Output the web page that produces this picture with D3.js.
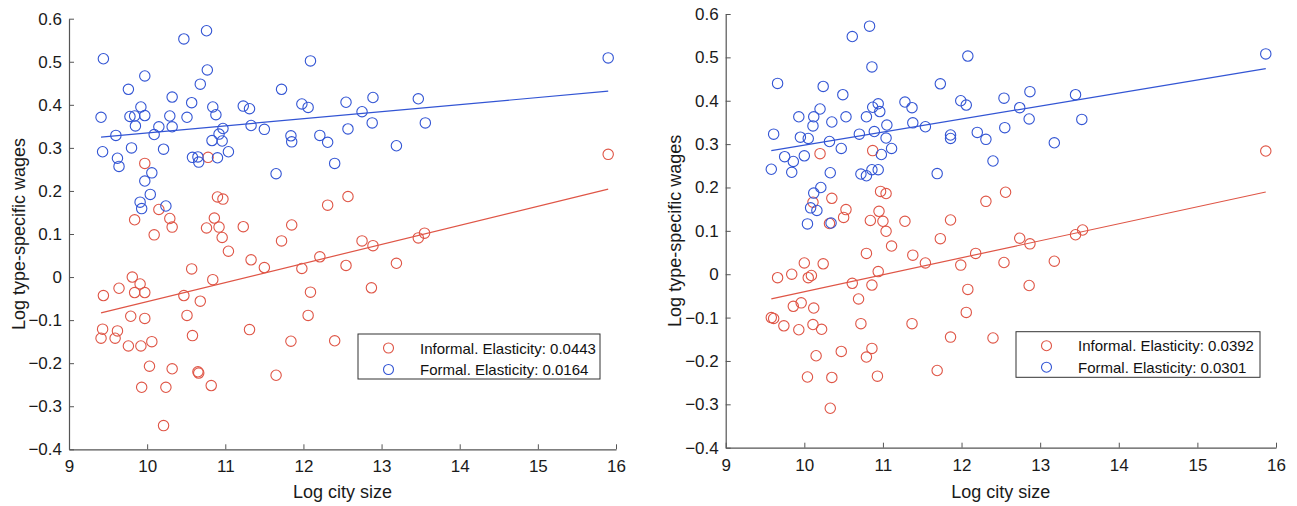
<!DOCTYPE html>
<html>
<head>
<meta charset="utf-8">
<script src="https://cdn.jsdelivr.net/npm/d3@7"></script>
<style>
    body { margin: 0; background: #fff; }
    svg { font-family: "Liberation Sans", Arial, Helvetica, sans-serif; }
    .axis path, .axis line { stroke: #555; }
    .axis text { fill: #1a1a1a; font-size: 17px; }
</style>
</head>
<body>
<div id="chart"></div>
<script>
//Datos: [log city size, log type-specific wage]
const xTicks = [9, 10, 11, 12, 13, 14, 15, 16];
const yTicks = [-0.4, -0.3, -0.2, -0.1, 0, 0.1, 0.2, 0.3, 0.4, 0.5, 0.6];

const leftInformal = [[9.97,0.264],[10.78,0.278],[9.84,0.133],[10.15,0.157],[10.09,0.098],[10.29,0.136],[10.32,0.116],[10.90,0.186],[10.97,0.181],[10.86,0.137],[10.76,0.114],[10.92,0.116],[10.96,0.092],[11.04,0.060],[11.23,0.117],[11.85,0.121],[11.72,0.084],[12.31,0.167],[12.21,0.047],[11.33,0.040],[11.50,0.022],[11.98,0.020],[10.57,0.019],[9.81,0.000],[9.91,-0.016],[9.84,-0.036],[9.97,-0.036],[9.64,-0.026],[9.44,-0.043],[10.47,-0.043],[10.84,-0.006],[10.68,-0.056],[12.09,-0.035],[12.06,-0.089],[9.79,-0.091],[9.97,-0.096],[10.51,-0.089],[9.43,-0.121],[9.62,-0.125],[9.41,-0.142],[9.59,-0.142],[9.76,-0.160],[9.92,-0.160],[10.06,-0.150],[10.58,-0.136],[11.31,-0.122],[11.84,-0.149],[12.40,-0.148],[10.03,-0.207],[10.32,-0.213],[10.65,-0.220],[10.66,-0.223],[11.65,-0.228],[9.93,-0.256],[10.24,-0.256],[10.82,-0.252],[10.21,-0.345],[15.90,0.285],[12.57,0.187],[12.75,0.084],[12.89,0.073],[13.47,0.091],[13.55,0.102],[12.545,0.027],[13.19,0.032],[12.87,-0.025]];

const leftFormal = [[9.44,0.507],[9.41,0.371],[9.43,0.291],[9.60,0.329],[9.62,0.276],[9.64,0.257],[9.76,0.436],[9.97,0.467],[9.80,0.300],[9.78,0.373],[9.84,0.374],[9.92,0.395],[9.85,0.351],[9.97,0.375],[10.09,0.331],[10.15,0.349],[10.21,0.297],[10.06,0.242],[9.97,0.223],[10.04,0.192],[9.91,0.174],[9.93,0.159],[10.24,0.165],[10.32,0.418],[10.29,0.374],[10.32,0.349],[10.47,0.553],[10.76,0.572],[10.77,0.481],[10.68,0.448],[10.57,0.405],[10.51,0.371],[10.84,0.395],[10.88,0.377],[10.97,0.345],[10.92,0.332],[10.83,0.317],[10.96,0.316],[11.04,0.291],[10.58,0.278],[10.65,0.279],[10.66,0.267],[10.90,0.277],[11.23,0.397],[11.31,0.391],[11.33,0.352],[11.50,0.343],[11.65,0.240],[11.72,0.436],[11.84,0.328],[11.85,0.314],[11.98,0.402],[12.06,0.394],[12.09,0.502],[12.21,0.329],[12.31,0.313],[12.40,0.264],[12.545,0.406],[12.89,0.417],[12.75,0.384],[12.57,0.344],[12.88,0.358],[13.47,0.414],[13.56,0.358],[13.19,0.305],[15.90,0.509]];

const rightInformal = [[10.20,0.278],[10.87,0.285],[10.11,0.166],[10.35,0.175],[10.53,0.149],[10.50,0.131],[10.32,0.117],[10.97,0.191],[11.04,0.186],[10.95,0.145],[10.84,0.124],[11.00,0.122],[11.04,0.099],[11.11,0.065],[11.28,0.122],[11.86,0.125],[11.73,0.082],[10.79,0.048],[11.38,0.044],[12.18,0.048],[10.00,0.026],[10.24,0.024],[11.54,0.026],[11.99,0.021],[9.66,-0.008],[9.84,0.000],[10.05,-0.008],[10.09,-0.003],[10.94,0.006],[10.61,-0.021],[10.86,-0.025],[10.69,-0.057],[9.86,-0.074],[9.96,-0.066],[10.12,-0.078],[12.08,-0.035],[12.06,-0.088],[9.58,-0.100],[9.61,-0.102],[9.74,-0.119],[9.93,-0.128],[10.11,-0.116],[10.22,-0.127],[10.72,-0.114],[11.37,-0.114],[11.86,-0.145],[10.15,-0.188],[10.47,-0.178],[10.79,-0.191],[10.86,-0.171],[11.69,-0.222],[10.04,-0.237],[10.35,-0.238],[10.93,-0.235],[10.33,-0.309],[15.87,0.284],[12.31,0.168],[12.56,0.189],[12.74,0.083],[12.87,0.070],[13.45,0.091],[13.54,0.102],[12.54,0.027],[13.18,0.030],[12.86,-0.026],[12.40,-0.147]];

const rightFormal = [[9.66,0.440],[9.61,0.323],[9.58,0.242],[9.75,0.271],[9.86,0.260],[9.84,0.235],[10.00,0.273],[9.93,0.363],[9.95,0.316],[10.05,0.313],[10.12,0.363],[10.11,0.342],[10.20,0.381],[10.24,0.433],[10.35,0.351],[10.32,0.306],[10.47,0.290],[10.33,0.234],[10.21,0.200],[10.12,0.187],[10.08,0.153],[10.16,0.147],[10.04,0.116],[10.34,0.118],[10.49,0.414],[10.53,0.363],[10.61,0.548],[10.83,0.572],[10.86,0.478],[10.79,0.363],[10.87,0.385],[10.94,0.393],[10.96,0.375],[10.70,0.323],[10.89,0.329],[11.05,0.344],[11.04,0.314],[10.98,0.276],[11.11,0.290],[10.72,0.231],[10.79,0.227],[10.86,0.241],[10.94,0.241],[11.28,0.397],[11.37,0.384],[11.38,0.349],[11.54,0.340],[11.69,0.232],[11.73,0.439],[11.86,0.321],[11.86,0.313],[11.99,0.400],[12.06,0.390],[12.08,0.503],[12.20,0.327],[12.31,0.311],[12.40,0.261],[12.54,0.406],[12.87,0.421],[12.74,0.384],[13.45,0.414],[12.86,0.358],[13.53,0.357],[12.55,0.338],[13.18,0.303],[15.87,0.508]];

//Elasticidades (pendiente de la recta ajustada)
const leftElasticities = [0.0443, 0.0164];
const rightElasticities = [0.0392, 0.0301];
const seriesNames = ['Informal', 'Formal'];

//Colores fijos
const COLOR_INFORMAL = '#df5546';
const COLOR_FORMAL = '#3355d4';

let svg = d3.select('#chart')
    .append('svg')
        .attr('width', 1297)
        .attr('height', 506);

function drawPanel(opts) {
    let x = d3.scaleLinear().domain([9, 16]).range([opts.left, opts.right]);
    let y = d3.scaleLinear().domain([-0.4, 0.6]).range([opts.bottom, opts.top]);

    let g = svg.append('g');

    //Ejes (ticks hacia dentro, estilo MATLAB)
    g.append('g')
        .attr('class', 'axis')
        .attr('transform', 'translate(0,' + opts.bottom + ')')
        .call(d3.axisBottom(x).tickValues(xTicks).tickFormat(d3.format('d'))
            .tickSizeInner(-5).tickSizeOuter(0).tickPadding(11))
        .call(function(a) { a.select('.domain').attr('stroke-width', 1.2); });

    g.append('g')
        .attr('class', 'axis')
        .attr('transform', 'translate(' + opts.left + ',0)')
        .call(d3.axisLeft(y).tickValues(yTicks).tickSizeInner(-5).tickSizeOuter(0).tickPadding(7)
            .tickFormat(function(d) { return Math.abs(d) < 1e-9 ? '0' : d3.format('.1f')(d); }))
        .call(function(a) { a.select('.domain').attr('stroke-width', 1.2); });

    //Títulos de ejes
    g.append('text')
        .attr('x', (opts.left + opts.right) / 2)
        .attr('y', 498)
        .attr('text-anchor', 'middle')
        .attr('font-size', 18)
        .attr('fill', '#1a1a1a')
        .text('Log city size');

    g.append('text')
        .attr('transform', 'translate(' + opts.ylabelX + ',' + ((opts.top + opts.bottom) / 2) + ') rotate(-90)')
        .attr('text-anchor', 'middle')
        .attr('font-size', 18)
        .attr('fill', '#1a1a1a')
        .text('Log type-specific wages');

    let series = [
        { data: opts.informal, color: COLOR_INFORMAL, slope: opts.elasticities[0] },
        { data: opts.formal, color: COLOR_FORMAL, slope: opts.elasticities[1] }
    ];

    series.forEach(function(s) {
        g.append('g')
            .selectAll('circle')
            .data(s.data)
            .enter()
            .append('circle')
            .attr('cx', function(d) { return x(d[0]); })
            .attr('cy', function(d) { return y(d[1]); })
            .attr('r', 5.2)
            .attr('fill', 'none')
            .attr('stroke', s.color)
            .attr('stroke-width', 1.1);
    });

    //Rectas ajustadas: pendiente = elasticidad, pasan por las medias
    series.forEach(function(s) {
        let mx = d3.mean(s.data, function(d) { return d[0]; });
        let my = d3.mean(s.data, function(d) { return d[1]; });
        let ext = d3.extent(s.data, function(d) { return d[0]; });
        let line = d3.line()
            .x(function(d) { return x(d); })
            .y(function(d) { return y(my + s.slope * (d - mx)); });
        g.append('path')
            .attr('d', line(ext))
            .attr('fill', 'none')
            .attr('stroke', s.color)
            .attr('stroke-width', 1.2);
    });

    //Leyenda
    let lg = g.append('g');
    lg.append('rect')
        .attr('x', opts.legend[0])
        .attr('y', opts.legend[1])
        .attr('width', opts.legend[2])
        .attr('height', opts.legend[3])
        .attr('fill', '#fff')
        .attr('stroke', '#333')
        .attr('stroke-width', 1);

    series.forEach(function(s, i) {
        let cy = opts.legend[1] + 14 + i * 21.5;
        lg.append('circle')
            .attr('cx', opts.legend[0] + 30.5)
            .attr('cy', cy)
            .attr('r', 5)
            .attr('fill', 'none')
            .attr('stroke', s.color)
            .attr('stroke-width', 1.1);
        lg.append('text')
            .attr('x', opts.legend[0] + 62)
            .attr('y', cy + 5.5)
            .attr('font-size', 15)
            .attr('fill', '#111')
            .text(seriesNames[i] + '. Elasticity: ' + s.slope.toFixed(4));
    });
}

drawPanel({
    left: 69, right: 616, top: 18.7, bottom: 449.3, ylabelX: 25,
    informal: leftInformal, formal: leftFormal,
    elasticities: leftElasticities,
    legend: [358, 334, 242, 45]
});

drawPanel({
    left: 725.7, right: 1276, top: 14, bottom: 447.7, ylabelX: 681,
    informal: rightInformal, formal: rightFormal,
    elasticities: rightElasticities,
    legend: [1016, 331.7, 244, 45.6]
});
</script>
</body>
</html>
